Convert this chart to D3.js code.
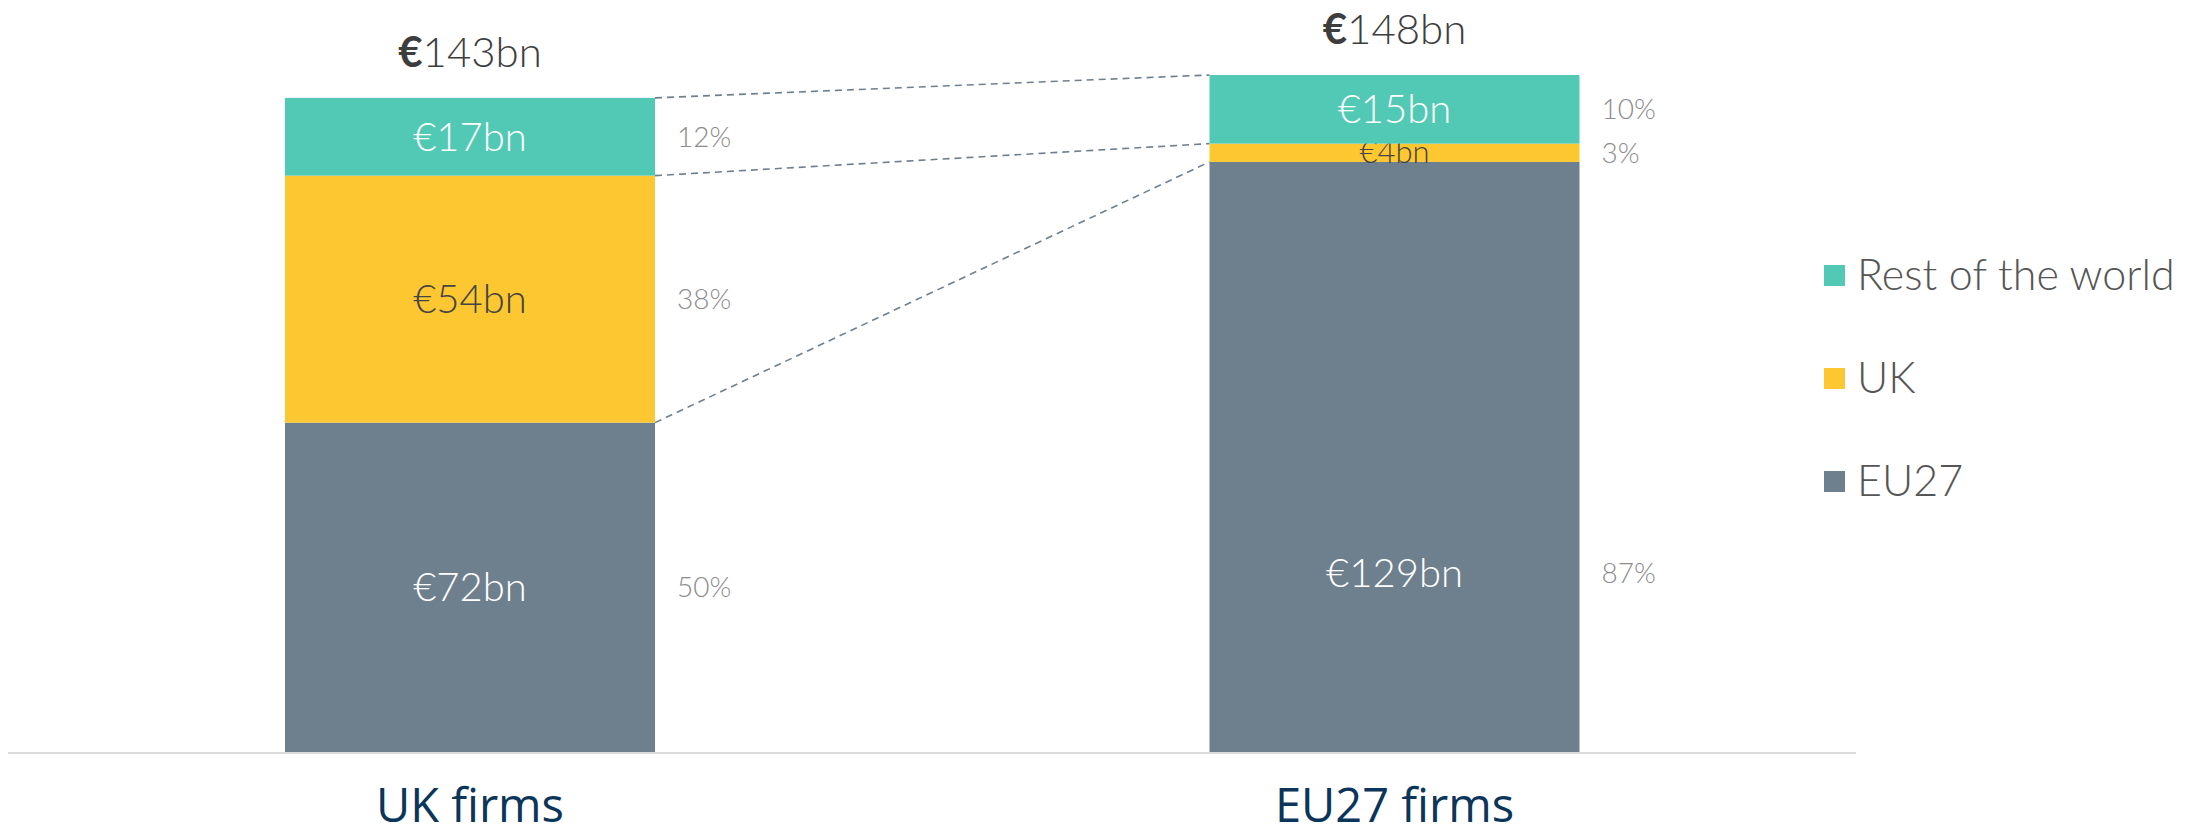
<!DOCTYPE html>
<html>
<head>
<meta charset="utf-8">
<script src="https://cdn.jsdelivr.net/npm/d3@7"></script>
<style>
  html, body { margin: 0; padding: 0; background: #fff; }
  svg { display: block; font-family: "Lato", "Open Sans", sans-serif; }
</style>
</head>
<body>
<div id="chart"></div>
<script>
// data (EUR bn)
var categories = ["UK firms", "EU27 firms"];
var segments = ["EU27", "UK", "Rest of the world"];
var eu27Values = [72, 129];
var ukValues = [54, 4];
var rowValues = [17, 15];
var legendOrder = ["Rest of the world", "UK", "EU27"];

var colors = {"EU27": "#6e7f8e", "UK": "#fcc730", "Rest of the world": "#52c9b5"};
var labelColors = {"EU27": "#ffffff", "UK": "#444444", "Rest of the world": "#ffffff"};

var width = 2190, height = 837;
var baseY = 752, barW = 370;

var svg = d3.select("#chart").append("svg")
    .attr("width", width)
    .attr("height", height);

var rows = categories.map(function (c, i) {
    return {cat: c, "EU27": eu27Values[i], "UK": ukValues[i], "Rest of the world": rowValues[i]};
});
var stacked = d3.stack().keys(segments)(rows);
var totals = rows.map(function (r) { return r["EU27"] + r["UK"] + r["Rest of the world"]; });

var x = d3.scalePoint().domain(categories).range([470, 1394.5]);
var y = d3.scaleLinear().domain([0, 148]).range([baseY, 75]);
var pct = d3.format(".0%");

// baseline
svg.append("line")
    .attr("x1", 8).attr("x2", 1856)
    .attr("y1", baseY + 1).attr("y2", baseY + 1)
    .attr("stroke", "#dcdcdc").attr("stroke-width", 2);

// dashed connectors between the cumulative tops
var leftEdge = x(categories[0]) + barW / 2, rightEdge = x(categories[1]) - barW / 2;
stacked.forEach(function (layer) {
    svg.append("line")
        .attr("x1", leftEdge).attr("y1", y(layer[0][1]))
        .attr("x2", rightEdge).attr("y2", y(layer[1][1]))
        .attr("stroke", "#6e7f8f")
        .attr("stroke-width", 1.6)
        .attr("stroke-dasharray", "7,5");
});

// bars
var layers = svg.selectAll("g.layer")
    .data(stacked).enter()
    .append("g")
    .attr("class", "layer");

layers.selectAll("rect")
    .data(function (d) { return d.map(function (p) { return {key: d.key, p: p}; }); })
    .enter().append("rect")
    .attr("x", function (d) { return x(d.p.data.cat) - barW / 2; })
    .attr("width", barW)
    .attr("y", function (d) { return y(d.p[1]); })
    .attr("height", function (d) { return y(d.p[0]) - y(d.p[1]); })
    .attr("fill", function (d) { return colors[d.key]; });

// the big EU27 label on the right bar sits lower than the middle in the original
var shift = {"EU27 firms|EU27": 116};

layers.selectAll("text.val")
    .data(function (d) { return d.map(function (p) { return {key: d.key, p: p}; }); })
    .enter().append("text")
    .attr("class", "val")
    .attr("x", function (d) { return x(d.p.data.cat); })
    .attr("y", function (d) {
        var v = d.p[1] - d.p[0];
        var mid = (y(d.p[0]) + y(d.p[1])) / 2 + (shift[d.p.data.cat + "|" + d.key] || 0);
        return v < 8 ? mid + 10 : mid + 14;
    })
    .attr("text-anchor", "middle")
    .attr("font-size", function (d) { return (d.p[1] - d.p[0]) < 8 ? 31 : 40; })
    .attr("font-weight", 300)
    .attr("fill", function (d) { return labelColors[d.key]; })
    .text(function (d) { return "€" + (d.p[1] - d.p[0]) + "bn"; });

// percentages to the right of each bar
layers.selectAll("text.pct")
    .data(function (d) { return d.map(function (p, i) { return {key: d.key, p: p, i: i}; }); })
    .enter().append("text")
    .attr("class", "pct")
    .attr("x", function (d) { return x(d.p.data.cat) + barW / 2 + 22; })
    .attr("y", function (d) {
        var mid = (y(d.p[0]) + y(d.p[1])) / 2 + (shift[d.p.data.cat + "|" + d.key] || 0);
        return mid + 10;
    })
    .attr("font-size", 28)
    .attr("font-weight", 300)
    .attr("fill", "#8c8c8c")
    .text(function (d) { return pct((d.p[1] - d.p[0]) / totals[d.i]); });

// totals above bars
var tot = svg.selectAll("text.total")
    .data(categories).enter()
    .append("text")
    .attr("class", "total")
    .attr("x", function (d) { return x(d); })
    .attr("y", function (d, i) { return y(totals[i]) - 31; })
    .attr("text-anchor", "middle")
    .attr("font-size", 42)
    .attr("fill", "#3d3d3d");
tot.append("tspan").attr("font-weight", 700).text("€");
tot.append("tspan").attr("font-weight", 300).text(function (d, i) { return totals[i] + "bn"; });

// category labels
svg.selectAll("text.cat")
    .data(categories).enter()
    .append("text")
    .attr("class", "cat")
    .attr("x", function (d) { return x(d); })
    .attr("y", 822)
    .attr("text-anchor", "middle")
    .attr("font-family", "Open Sans")
    .attr("font-size", 47)
    .attr("fill", "#0b3559")
    .text(function (d) { return d; });

// legend
var legend = svg.selectAll("g.legend")
    .data(legendOrder).enter()
    .append("g")
    .attr("class", "legend")
    .attr("transform", function (d, i) { return "translate(1824," + (265 + i * 103) + ")"; });

legend.append("rect")
    .attr("width", 21).attr("height", 21)
    .attr("fill", function (d) { return colors[d]; });

legend.append("text")
    .attr("x", 33)
    .attr("y", 25)
    .attr("font-size", 43)
    .attr("font-weight", 300)
    .attr("fill", "#555555")
    .text(function (d) { return d; });
</script>
</body>
</html>
